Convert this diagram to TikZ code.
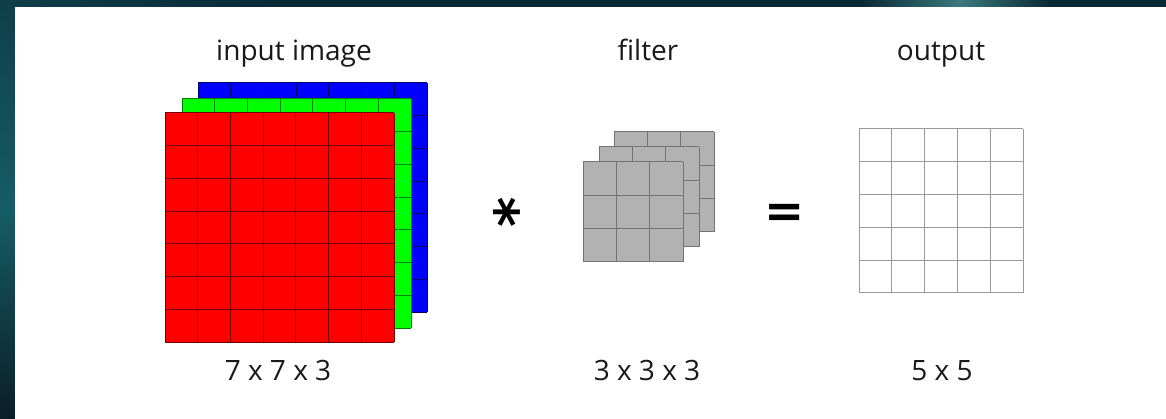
\documentclass[tikz,border=0pt]{standalone}
\usepackage{fontspec}
\setmainfont{Open Sans}
\newfontfamily\symfont{DejaVu Sans}
\definecolor{bgdark}{RGB}{9,40,54}
\definecolor{bgteal}{RGB}{22,92,102}
\definecolor{bgmid}{RGB}{15,62,74}
\definecolor{bglow}{RGB}{10,30,40}
\definecolor{bgstreak}{RGB}{60,120,125}
\begin{document}
\begin{tikzpicture}[x=1pt,y=-1pt,
  lbl/.style={anchor=base,inner sep=0pt,font=\fontsize{28}{34}\selectfont,text=black!90},
  redline/.style={draw=red!45!black,line width=1pt},
  greenline/.style={draw=green!50!black,line width=1pt},
  blueline/.style={draw=blue!45!black,line width=1pt},
  grayline/.style={draw=black!55,line width=1pt},
  outline/.style={draw=black!40,line width=1pt}]
\newcommand{\sqgrid}[6]{%
  \fill[#5] (#1,#2) rectangle ++(#3,#3);
  \foreach \k in {0,...,#4} {%
    \draw[#6] ({#1+\k*#3/#4},#2) -- ++(0,#3);
    \draw[#6] (#1,{#2+\k*#3/#4}) -- ++(#3,0);
  }%
}
% background
\useasboundingbox (0,0) rectangle (1166,419);
\fill[bgdark] (0,0) rectangle (1166,419);
\shade[top color=bgmid,bottom color=bgteal] (0,0) rectangle (15,210);
\shade[top color=bgteal,bottom color=bglow] (0,210) rectangle (15,419);
\shade[left color=bgmid,right color=bgdark] (0,0) rectangle (300,7);
\shade[left color=bgdark,right color=bgstreak] (860,0) rectangle (960,7);
\shade[left color=bgstreak,right color=bgdark] (960,0) rectangle (1050,7);
% white panel
\fill[white] (15,7) rectangle (1166,419);
% input image layers
\sqgrid{198}{83}{229}{7}{blue}{blueline}
\sqgrid{182}{99}{229}{7}{green}{greenline}
\sqgrid{165}{113}{229}{7}{red}{redline}
% filter layers
\sqgrid{614}{132}{100}{3}{black!30}{grayline}
\sqgrid{599}{147}{100}{3}{black!30}{grayline}
\sqgrid{583}{162}{100}{3}{black!30}{grayline}
% output grid
\sqgrid{859}{129}{164}{5}{white}{outline}
% labels
\node[lbl] (t1) at (294,61) {input image};
\node[lbl] (t2) at (648,61) {filter};
\node[lbl] (t3) at (941,61) {output};
\node[lbl] (b1) at (278,380) {7 x 7 x 3};
\node[lbl] (b2) at (647,380) {3 x 3 x 3};
\node[lbl] (b3) at (942,380) {5 x 5};
\node[inner sep=0pt,rotate=90,font=\symfont\bfseries\fontsize{58}{58}\selectfont] (star) at (515,212) {*};
\node[inner sep=0pt,font=\symfont\bfseries\fontsize{48}{48}\selectfont] (eq) at (785,216) {=};
\end{tikzpicture}
\end{document}
